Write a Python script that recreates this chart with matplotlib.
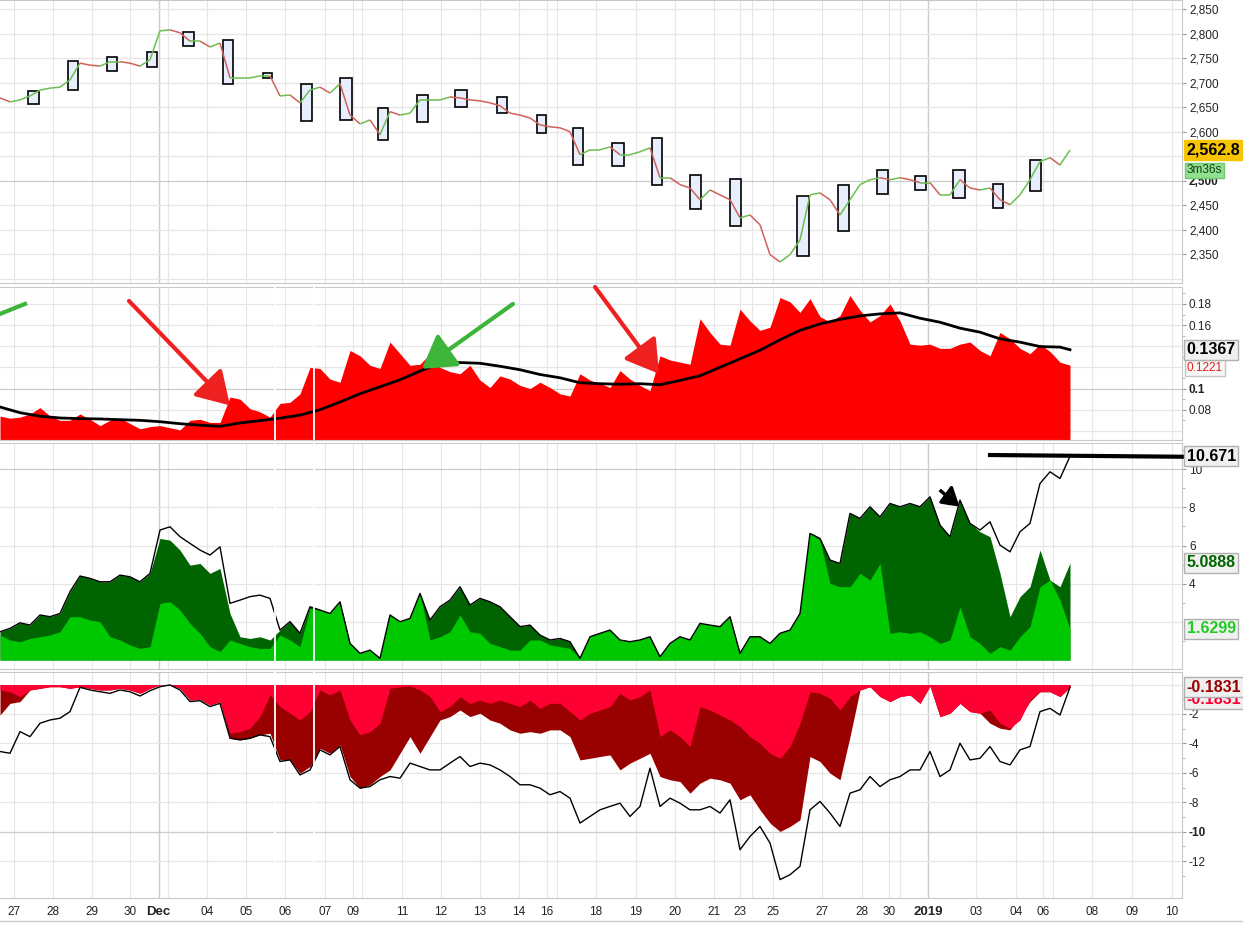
import matplotlib
matplotlib.use('Agg')
import matplotlib.pyplot as plt
import numpy as np
from matplotlib.collections import LineCollection
from matplotlib.patches import Rectangle
from matplotlib.lines import Line2D
from matplotlib.ticker import FixedLocator

plt.rcParams['font.family'] = ['Liberation Sans', 'DejaVu Sans']

# ------------------------------------------------------------
# data (one sample per bar slot)
# ------------------------------------------------------------
price = [2669, 2661, 2665, 2673, 2685, 2689, 2691, 2706, 2740, 2736,
         2734, 2743, 2743, 2740, 2734, 2747, 2806, 2808, 2802, 2785,
         2785, 2773, 2781, 2710, 2710, 2710, 2714, 2714, 2673, 2675,
         2659, 2685, 2691, 2679, 2698, 2634, 2616, 2624, 2594, 2641,
         2634, 2638, 2665, 2665, 2665, 2671, 2669, 2665, 2663, 2659,
         2653, 2638, 2634, 2628, 2614, 2610, 2608, 2600, 2553, 2563,
         2563, 2569, 2553, 2553, 2559, 2567, 2506, 2506, 2492, 2485,
         2461, 2481, 2471, 2461, 2424, 2430, 2410, 2349, 2334, 2349,
         2379, 2471, 2475, 2461, 2430, 2461, 2492, 2502, 2506, 2502,
         2506, 2502, 2496, 2496, 2471, 2471, 2502, 2485, 2481, 2485,
         2461, 2451, 2471, 2502, 2539, 2547, 2532, 2562.8]

box_start = [2.8, 6.8, 10.7, 14.7, 18.3, 22.3, 26.3, 30.1, 34.0, 37.8, 41.7, 45.5, 49.7,
             53.7, 57.3, 61.2, 65.2, 69.0, 73.0, 79.7, 83.8, 87.7, 91.5, 95.3, 99.3, 103.0]
box_end = [3.9, 7.8, 11.7, 15.7, 19.4, 23.3, 27.2, 31.2, 35.2, 38.8, 42.8, 46.7, 50.7,
           54.6, 58.3, 62.4, 66.2, 70.1, 74.1, 80.9, 84.9, 88.8, 92.6, 96.5, 100.3, 104.1]
box_hi = [2683, 2745, 2753, 2763, 2804, 2787, 2720, 2698, 2710, 2649, 2675, 2685, 2671,
          2634, 2608, 2577, 2587, 2512, 2504, 2469, 2492, 2522, 2510, 2522, 2494, 2543]
box_lo = [2657, 2685, 2724, 2732, 2775, 2698, 2710, 2622, 2624, 2583, 2620, 2651, 2638,
          2598, 2532, 2530, 2492, 2443, 2408, 2347, 2398, 2473, 2481, 2465, 2445, 2479]

vol = [0.074, 0.072, 0.073, 0.076, 0.082, 0.074, 0.070, 0.070, 0.076, 0.071,
       0.065, 0.070, 0.072, 0.067, 0.062, 0.064, 0.065, 0.063, 0.061, 0.070,
       0.071, 0.068, 0.068, 0.092, 0.090, 0.081, 0.078, 0.073, 0.086, 0.087,
       0.095, 0.120, 0.119, 0.109, 0.106, 0.136, 0.131, 0.122, 0.119, 0.144,
       0.133, 0.122, 0.123, 0.133, 0.120, 0.116, 0.114, 0.122, 0.108, 0.101,
       0.112, 0.109, 0.103, 0.100, 0.106, 0.101, 0.095, 0.093, 0.114, 0.108,
       0.105, 0.101, 0.117, 0.109, 0.103, 0.098, 0.131, 0.127, 0.125, 0.123,
       0.166, 0.153, 0.142, 0.141, 0.175, 0.164, 0.155, 0.158, 0.186, 0.182,
       0.172, 0.185, 0.168, 0.163, 0.169, 0.188, 0.174, 0.163, 0.169, 0.180,
       0.164, 0.142, 0.141, 0.142, 0.138, 0.138, 0.142, 0.144, 0.136, 0.131,
       0.153, 0.147, 0.138, 0.133, 0.142, 0.135, 0.125, 0.1221]

# moving average, one value every second slot plus the last one
vol_ma = [0.0826, 0.0772, 0.0739, 0.0722, 0.0716, 0.0713, 0.0706, 0.0700, 0.0687, 0.0668,
          0.0654, 0.0643, 0.0675, 0.0697, 0.0720, 0.0749, 0.0800, 0.0873, 0.0951, 0.1017,
          0.1083, 0.1165, 0.1241, 0.1246, 0.1239, 0.1211, 0.1178, 0.1133, 0.1102, 0.1055,
          0.1046, 0.1041, 0.1046, 0.1036, 0.1077, 0.1121, 0.1201, 0.1281, 0.1362, 0.1461,
          0.1550, 0.1611, 0.1654, 0.1687, 0.1706, 0.1715, 0.1665, 0.1627, 0.1571, 0.1533,
          0.1470, 0.1439, 0.1397, 0.1392, 0.1367]

pos_total = [1.48, 1.66, 1.95, 1.83, 2.36, 2.27, 2.44, 3.58, 4.40, 4.28,
             4.10, 4.10, 4.45, 4.36, 4.10, 4.54, 6.81, 6.98, 6.46, 6.11,
             5.76, 5.50, 5.93, 2.97, 3.14, 3.32, 3.40, 3.23, 1.57, 2.01,
             1.40, 2.79, 2.62, 2.44, 3.05, 0.87, 0.35, 0.52, 0.09, 2.36,
             2.01, 2.18, 3.49, 2.09, 2.79, 3.14, 3.84, 2.88, 3.23, 3.05,
             2.79, 2.27, 1.75, 1.83, 1.31, 1.05, 1.13, 0.96, 0.09, 1.22,
             1.40, 1.57, 1.05, 0.96, 1.05, 1.22, 0.17, 0.87, 1.22, 1.05,
             1.92, 1.83, 1.75, 2.27, 0.35, 1.22, 1.22, 0.87, 1.40, 1.57,
             2.44, 6.63, 6.37, 5.24, 5.06, 7.68, 7.42, 8.03, 7.50, 8.20,
             8.03, 8.20, 8.03, 8.55, 7.07, 6.46, 8.38, 7.16, 6.81, 7.24,
             6.02, 5.67, 6.72, 7.16, 9.25, 9.86, 9.51, 10.671]
pos_slow = [1.48, 1.66, 1.95, 1.83, 2.36, 2.27, 2.44, 3.58, 4.40, 4.28,
            4.10, 4.10, 4.45, 4.36, 4.10, 4.54, 6.37, 6.28, 5.76, 4.97,
            5.06, 4.54, 4.80, 2.44, 1.22, 1.13, 1.22, 1.05, 1.57, 2.01,
            1.40, 2.79, 2.62, 2.44, 3.05, 0.87, 0.35, 0.52, 0.09, 2.36,
            2.01, 2.18, 3.49, 2.09, 2.79, 3.14, 3.84, 2.88, 3.23, 3.05,
            2.79, 2.27, 1.75, 1.83, 1.31, 1.05, 1.13, 0.96, 0.09, 1.22,
            1.40, 1.57, 1.05, 0.96, 1.05, 1.22, 0.17, 0.87, 1.22, 1.05,
            1.92, 1.83, 1.75, 2.27, 0.35, 1.22, 1.22, 0.87, 1.40, 1.57,
            2.44, 6.63, 6.37, 5.24, 5.06, 7.68, 7.42, 8.03, 7.50, 8.20,
            8.03, 8.20, 8.03, 8.55, 7.07, 6.46, 8.38, 7.16, 6.72, 6.46,
            4.54, 2.27, 3.32, 3.84, 5.76, 4.19, 3.84, 5.0888]
pos_fast = [1.31, 1.05, 0.96, 1.13, 1.22, 1.31, 1.48, 2.27, 2.27, 2.09,
            2.01, 1.22, 1.05, 0.79, 0.61, 0.70, 2.97, 3.05, 2.62, 1.92,
            1.40, 0.70, 0.44, 1.05, 0.87, 0.70, 0.61, 0.61, 1.31, 1.05,
            0.70, 2.71, 2.62, 2.44, 3.05, 0.87, 0.35, 0.52, 0.09, 2.36,
            2.01, 2.18, 3.49, 1.05, 1.22, 1.48, 2.36, 1.48, 1.40, 0.87,
            0.70, 0.52, 0.52, 1.05, 1.05, 0.79, 0.70, 0.61, 0.09, 1.22,
            1.40, 1.57, 1.05, 0.96, 1.05, 1.22, 0.17, 0.87, 1.22, 1.05,
            1.92, 1.83, 1.75, 2.27, 0.35, 1.22, 1.22, 0.87, 1.40, 1.57,
            2.44, 6.63, 6.28, 4.01, 3.84, 3.84, 4.54, 4.19, 5.06, 1.40,
            1.48, 1.40, 1.48, 1.22, 0.87, 1.05, 2.79, 1.22, 0.87, 0.35,
            0.70, 0.52, 1.22, 1.75, 3.84, 4.19, 3.14, 1.6299]

neg_fast = [-0.37, -0.49, -0.82, -0.37, -0.26, -0.15, -0.15, -0.26, -0.15, -0.26,
            -0.37, -0.37, -0.26, -0.37, -0.60, -0.26, -0.03, -0.01, -0.26, -1.05,
            -1.01, -1.39, -1.16, -3.31, -3.20, -2.97, -2.18, -0.71, -1.50, -1.95,
            -2.41, -1.84, -0.37, -0.71, -0.37, -2.41, -3.42, -3.20, -2.63, -0.26,
            -0.15, -0.10, -0.37, -0.82, -1.84, -1.50, -0.82, -1.28, -1.05, -1.28,
            -1.05, -1.28, -1.50, -1.05, -1.62, -1.28, -1.28, -1.84, -2.41, -1.95,
            -1.73, -1.50, -0.60, -1.05, -0.82, -0.37, -3.54, -3.08, -3.54, -4.21,
            -1.50, -1.73, -2.07, -2.41, -2.86, -3.54, -3.99, -4.67, -5.01, -4.21,
            -2.63, -0.49, -0.60, -0.94, -1.73, -0.82, -0.37, -0.15, -0.82, -1.16,
            -0.82, -0.71, -1.28, -0.10, -2.18, -1.95, -1.28, -1.84, -1.95, -1.73,
            -2.63, -2.97, -2.41, -1.05, -0.49, -0.49, -0.82, -0.1831]
neg_slow = [-2.07, -1.28, -1.16, -0.37, -0.26, -0.15, -0.15, -0.26, -0.15, -0.26,
            -0.37, -0.37, -0.26, -0.37, -0.60, -0.26, -0.03, -0.01, -0.26, -1.05,
            -1.01, -1.39, -1.16, -3.65, -3.76, -3.65, -3.42, -3.31, -5.12, -5.12,
            -6.02, -5.57, -4.33, -4.67, -4.10, -6.25, -7.04, -6.81, -6.25, -5.80,
            -4.67, -3.54, -4.67, -3.54, -2.41, -2.18, -1.73, -2.18, -1.95, -2.41,
            -2.63, -3.08, -3.31, -3.20, -3.31, -3.08, -3.08, -3.54, -5.12, -5.01,
            -4.89, -4.78, -5.80, -5.34, -5.01, -4.67, -6.25, -6.47, -6.59, -7.38,
            -6.70, -6.36, -6.47, -6.70, -7.83, -7.49, -8.51, -9.41, -9.98, -9.64,
            -9.19, -4.89, -5.23, -6.02, -6.47, -3.54, -0.37, -0.15, -0.82, -1.16,
            -0.82, -0.71, -1.28, -0.10, -2.18, -1.95, -1.28, -1.84, -1.95, -2.63,
            -2.97, -3.08, -2.18, -1.16, -0.49, -0.49, -0.82, -0.1831]
neg_total = [-4.55, -4.67, -3.20, -3.54, -2.63, -2.41, -2.29, -1.84, -0.19, -0.37,
             -0.49, -0.60, -0.37, -0.49, -0.78, -0.42, -0.15, -0.03, -0.37, -1.16,
             -1.10, -1.50, -1.28, -3.65, -3.76, -3.65, -3.42, -3.54, -5.23, -5.12,
             -6.14, -5.80, -4.44, -4.78, -4.21, -6.47, -7.04, -6.93, -6.47, -6.25,
             -6.36, -5.34, -5.57, -5.80, -5.80, -5.34, -4.89, -5.57, -5.34, -5.46,
             -5.80, -6.25, -6.81, -6.81, -7.04, -7.49, -7.27, -7.72, -9.41, -8.96,
             -8.51, -8.28, -8.06, -8.96, -8.28, -5.68, -8.28, -7.72, -8.06, -8.51,
             -8.51, -8.28, -8.73, -7.83, -11.22, -10.32, -9.64, -10.77, -13.25, -12.92,
             -12.35, -8.51, -7.94, -8.73, -9.64, -7.38, -7.15, -6.25, -6.93, -6.47,
             -6.25, -5.80, -5.80, -4.55, -6.25, -5.80, -3.99, -5.12, -5.01, -4.21,
             -5.23, -5.46, -4.44, -4.21, -1.84, -1.62, -2.07, -0.1831]

# x axis: label positions (in bar slots) and labels
tick_pos = [1.38, 5.26, 9.17, 13.0, 15.85, 20.7, 24.6, 28.5, 32.5, 35.3, 40.2, 44.1,
            48.0, 51.9, 54.7, 59.6, 63.6, 67.5, 71.4, 74.0, 77.3, 82.2, 86.2, 88.9,
            92.8, 97.6, 101.6, 104.3, 109.2, 113.2, 117.2]
tick_lab = ['27', '28', '29', '30', 'Dec', '04', '05', '06', '07', '09', '11', '12',
            '13', '14', '16', '18', '19', '20', '21', '23', '25', '27', '28', '30',
            '2019', '03', '04', '06', '08', '09', '10']
extra_grid = [16.8, 36.2, 55.7, 75.2, 90.0, 105.3]
month_grid = [15.85, 92.8]
session_gaps = [27.5, 31.4]

x = np.arange(len(price))
ma_x = np.r_[np.arange(0, len(price) - 1, 2), len(price) - 1]

# ------------------------------------------------------------
W, H = 1243, 925
fig = plt.figure(figsize=(W / 100, H / 100), dpi=100)


def panel(top, bottom):
    return fig.add_axes([0, 1 - bottom / H, 1182 / W, (bottom - top) / H])


ax1 = panel(0, 283)
ax2 = panel(287, 440)
ax3 = panel(443, 669)
ax4 = panel(672, 898)


def style(ax, ylim, ticks, labels, hgrid, dark=(), minor=(), bold=()):
    ax.set_xlim(0, 118.2)
    ax.set_ylim(*ylim)
    ax.spines['left'].set_visible(False)
    for s in ['top', 'right', 'bottom']:
        ax.spines[s].set_color('#c8c8c8')
    for gx in tick_pos + extra_grid:
        ax.axvline(gx, color='#e6e6e6', lw=0.8, zorder=0)
    for gx in month_grid:
        ax.axvline(gx, color='#cccccc', lw=1.0, zorder=0)
    for gy in hgrid:
        ax.axhline(gy, color='#cccccc' if gy in dark else '#e6e6e6', lw=0.9, zorder=0)
    ax.yaxis.tick_right()
    ax.set_yticks(ticks)
    ax.set_yticklabels(labels)
    for t, lab in zip(ax.get_yticklabels(), labels):
        if lab in bold:
            t.set_fontweight('bold')
    if minor:
        ax.yaxis.set_minor_locator(FixedLocator(minor))
    ax.tick_params(axis='y', which='major', length=3, color='#999999',
                   labelsize=8.5, pad=2, labelcolor='#222222')
    ax.tick_params(axis='y', which='minor', length=2, color='#aaaaaa')
    ax.set_xticks([])


def badge(ax, y, text, color='black', fc='#f0f0f0', ec='#b0b0b0', size=11.5,
          weight='bold', z=10):
    ax.text(1.004, y, text, transform=ax.get_yaxis_transform(), ha='left', va='center',
            fontsize=size, fontweight=weight, color=color, clip_on=False, zorder=z,
            bbox=dict(boxstyle='square,pad=0.15', fc=fc, ec=ec, lw=1))


# ---- panel 1: price -----------------------------------------------------
pticks = [2350, 2400, 2450, 2500, 2600, 2650, 2700, 2750, 2800, 2850]
style(ax1, (2291, 2869), pticks, [f'{v:,}' for v in pticks],
      list(range(2300, 2900, 50)), dark=(2500,), bold=('2,500',))

for s, e, hi, lo in zip(box_start, box_end, box_hi, box_lo):
    ax1.add_patch(Rectangle((s, lo), e - s, hi - lo, fc='#e8eefb', ec='black',
                            lw=1.2, zorder=2))

pts = np.column_stack([x, price])
segs = np.stack([pts[:-1], pts[1:]], axis=1)
seg_col = np.where(np.diff(price) >= 0, '#6cbf4f', '#d0605a')
ax1.add_collection(LineCollection(segs, colors=seg_col, lw=1.1, zorder=3))

badge(ax1, 2562.8, '2,562.8', fc='#f8c400', ec='#f8c400')
badge(ax1, 2521, '3m36s', color='#1a3a1a', fc='#8fe08f', ec='#70c870', size=8.5,
      weight='normal')

# ---- panel 2: volatility ------------------------------------------------
style(ax2, (0.0514, 0.196), [0.08, 0.1, 0.16, 0.18], ['0.08', '0.1', '0.16', '0.18'],
      [0.06, 0.08, 0.10, 0.12, 0.14, 0.16, 0.18], dark=(0.10,),
      minor=[0.07, 0.09, 0.11, 0.13, 0.15, 0.17, 0.19], bold=('0.1',))
ax2.fill_between(x, 0, vol, color='#ff0000', lw=0, zorder=2)
ax2.plot(ma_x, vol_ma, color='black', lw=2, zorder=3)

red_arrow = dict(arrowstyle='-|>,head_length=0.9,head_width=0.55', color='#ee2020',
                 lw=3, mutation_scale=22, shrinkA=0, shrinkB=0)
green_arrow = dict(red_arrow, color='#3db53a')
ax2.annotate('', xy=(23.0, 0.0841), xytext=(12.9, 0.1828), arrowprops=red_arrow, zorder=4)
ax2.annotate('', xy=(65.9, 0.114), xytext=(59.5, 0.196), arrowprops=red_arrow, zorder=4)
ax2.annotate('', xy=(42.2, 0.1187), xytext=(51.3, 0.180), arrowprops=green_arrow, zorder=4)
ax2.plot([-2.0, 2.5], [0.163, 0.180], color='#3db53a', lw=3, zorder=4)

badge(ax2, 0.1367, '0.1367')
badge(ax2, 0.1193, '0.1221', color='#e02020', fc='#f7f7f7', ec='#c4c4c4', size=8.5,
      weight='normal', z=9)

# ---- panel 3: positive pressure -----------------------------------------
style(ax3, (-0.47, 11.37), [4, 6, 8, 10], ['4', '6', '8', '10'], [2, 4, 6, 8, 10],
      dark=(10,), minor=[1, 3, 5, 7, 9, 11])
ax3.fill_between(x, 0, pos_slow, color='#006400', lw=0, zorder=2)
ax3.fill_between(x, 0, pos_fast, color='#00c800', lw=0, zorder=3)
ax3.plot(x, pos_total, color='black', lw=1, zorder=4)
ax3.plot([99.0, 118.2], [10.74, 10.65], color='black', lw=3, clip_on=False, zorder=6)
# small hand-drawn marker arrow
ax3.plot([94.1, 94.9], [8.85, 8.50], color='black', lw=2.5, zorder=6)
ax3.annotate('', xy=(95.2, 9.21), xytext=(94.9, 8.20),
             arrowprops=dict(arrowstyle='-|>,head_length=0.8,head_width=0.42',
                             color='black', lw=2.5, mutation_scale=14,
                             shrinkA=0, shrinkB=0), zorder=6)
badge(ax3, 10.671, '10.671')
badge(ax3, 5.0888, '5.0888', color='#006400')
badge(ax3, 1.6299, '1.6299', color='#22cc22')

# ---- panel 4: negative pressure -----------------------------------------
style(ax4, (-14.5, 0.85), [-12, -10, -8, -6, -4, -2],
      ['-12', '-10', '-8', '-6', '-4', '-2'], [0, -2, -4, -6, -8, -10, -12],
      dark=(-10,), minor=[-1, -3, -5, -7, -9, -11, -13], bold=('-10',))
ax4.fill_between(x, 0, neg_slow, color='#990000', lw=0, zorder=2)
ax4.fill_between(x, 0, neg_fast, color='#ff0033', lw=0, zorder=3)
ax4.plot(x, neg_total, color='black', lw=1, zorder=4)
badge(ax4, -1.0, '-0.1831', color='#ff0033', z=9)
badge(ax4, -0.1831, '-0.1831', color='#990000')

for ax in (ax2, ax3, ax4):
    for gx in session_gaps:
        ax.axvline(gx, color='white', lw=1.3, zorder=5)

# bottom date axis
ax4.set_xticks(tick_pos)
ax4.set_xticklabels(tick_lab)
ax4.tick_params(axis='x', length=0, pad=6, labelsize=8.5, labelcolor='#222222')
for t in ax4.get_xticklabels():
    if t.get_text() in ('Dec', '2019'):
        t.set_fontweight('bold')
        t.set_fontsize(9.5)

fig.add_artist(Line2D([0, 1], [1 - 921 / H] * 2, color='#c8c8c8', lw=1))

fig.savefig('out.png', dpi=100)
